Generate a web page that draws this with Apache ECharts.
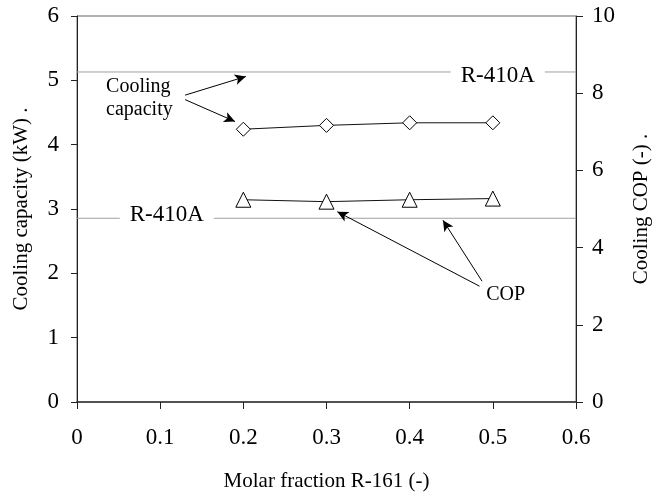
<!DOCTYPE html>
<html>
<head>
<meta charset="utf-8">
<script src="https://cdn.jsdelivr.net/npm/echarts@6/dist/echarts.min.js"></script>
<style>
  html, body { margin: 0; padding: 0; background: #fff; }
  #chart { width: 664px; height: 497px; }
</style>
</head>
<body>
<div id="chart"></div>
<script>
// Measured performance vs. R-161 molar fraction
const molarFraction = [0.2, 0.3, 0.4, 0.5];
const coolingCapacity = [4.24, 4.30, 4.34, 4.34];   // kW, left axis
const coolingCOP = [5.24, 5.19, 5.24, 5.27];        // -, right axis

// R-410A baseline values
const r410aCapacity = 5.13;
const r410aCOP = 4.76;

// Axis ranges and tick steps
const xTicks = { min: 0, max: 0.6, step: 0.1 };
const capTicks = { min: 0, max: 6, step: 1 };
const copTicks = { min: 0, max: 10, step: 2 };

// Annotation anchors in data space (x, y on the named axis)
const capacityNote = { x: 0.035, y: 4.72 };
const copNote = { x: 0.492, y: 2.77 };
const capacityArrows = [
  [[0.130, 4.77], [0.203, 5.06]],
  [[0.130, 4.70], [0.190, 4.36]]
];
const copArrows = [
  [[0.484, 3.00], [0.313, 4.93]],
  [[0.487, 3.13], [0.440, 4.71]]
];
const r410aLabelX = { capacity: 0.506, cop: 0.108 };

const FONT = '"Liberation Serif", "Times New Roman", serif';
const pairs = (xs, ys) => xs.map((x, i) => [x, ys[i]]);
const arrowData = list => list.map(([a, b]) => [{ coord: a }, { coord: b }]);

const chart = echarts.init(document.getElementById('chart'), null, { renderer: 'canvas' });

const arrowStyle = {
  silent: true,
  symbol: ['none', 'arrow'],
  symbolSize: [8, 11],
  lineStyle: { color: '#000', width: 1, type: 'solid' },
  itemStyle: { color: '#000' },
  label: { show: false },
  emphasis: { disabled: true },
  animation: false
};

const tagLabel = (text, offset) => ({
  show: true,
  formatter: text,
  position: 'inside',
  fontFamily: FONT,
  fontSize: 23,
  color: '#000',
  backgroundColor: '#fff',
  padding: [1, 10],
  offset: offset
});

chart.setOption({
  animation: false,
  backgroundColor: '#fff',
  textStyle: { fontFamily: FONT },
  grid: {
    left: 77, right: 88, top: 16, bottom: 93,
    show: true, borderColor: '#666', borderWidth: 1, backgroundColor: 'transparent'
  },
  xAxis: {
    type: 'value',
    min: xTicks.min, max: xTicks.max, interval: xTicks.step,
    name: 'Molar fraction R-161 (-)',
    nameLocation: 'middle',
    nameGap: 69,
    nameTextStyle: { fontFamily: FONT, fontSize: 21, color: '#000' },
    axisLine: { show: true, onZero: false, lineStyle: { color: '#333', width: 1.5 } },
    axisTick: { show: true, inside: false, length: 7, lineStyle: { color: '#222' } },
    axisLabel: { fontFamily: FONT, fontSize: 23, color: '#000', margin: 24 },
    splitLine: { show: false }
  },
  yAxis: [
    {
      type: 'value',
      min: capTicks.min, max: capTicks.max, interval: capTicks.step,
      name: 'Cooling capacity (kW) .',
      nameLocation: 'middle',
      nameRotate: 90,
      nameGap: 45,
      nameTextStyle: { fontFamily: FONT, fontSize: 21, color: '#000' },
      axisLine: { show: true, onZero: false, lineStyle: { color: '#222', width: 1 } },
      axisTick: { show: true, inside: false, length: 6, lineStyle: { color: '#222' } },
      axisLabel: { fontFamily: FONT, fontSize: 23, color: '#000', margin: 18 },
      splitLine: { show: false }
    },
    {
      type: 'value',
      position: 'right',
      min: copTicks.min, max: copTicks.max, interval: copTicks.step,
      name: 'Cooling COP (-) .',
      nameLocation: 'middle',
      nameRotate: 90,
      nameGap: 55,
      nameTextStyle: { fontFamily: FONT, fontSize: 21, color: '#000' },
      axisLine: { show: true, onZero: false, lineStyle: { color: '#222', width: 1 } },
      axisTick: { show: true, inside: false, length: 7, lineStyle: { color: '#222' } },
      axisLabel: { fontFamily: FONT, fontSize: 23, color: '#000', margin: 16 },
      splitLine: { show: false }
    }
  ],
  series: [
    {
      // R-410A capacity baseline
      type: 'line',
      yAxisIndex: 0,
      data: [[xTicks.min, r410aCapacity], [xTicks.max, r410aCapacity]],
      showSymbol: false,
      lineStyle: { color: '#a0a0a0', width: 1 },
      z: 1,
      silent: true,
      markPoint: {
        silent: true,
        symbol: 'circle',
        symbolSize: 0,
        data: [{ coord: [r410aLabelX.capacity, r410aCapacity] }],
        label: tagLabel('R-410A', [0, 4]),
        z: 3
      }
    },
    {
      // R-410A COP baseline
      type: 'line',
      yAxisIndex: 1,
      data: [[xTicks.min, r410aCOP], [xTicks.max, r410aCOP]],
      showSymbol: false,
      lineStyle: { color: '#a0a0a0', width: 1 },
      z: 1,
      silent: true,
      markPoint: {
        silent: true,
        symbol: 'circle',
        symbolSize: 0,
        data: [{ coord: [r410aLabelX.cop, r410aCOP] }],
        label: tagLabel('R-410A', [0, -3]),
        z: 3
      }
    },
    {
      name: 'Cooling capacity',
      type: 'line',
      yAxisIndex: 0,
      data: pairs(molarFraction, coolingCapacity),
      symbol: 'diamond',
      symbolSize: 14,
      showAllSymbol: true,
      lineStyle: { color: '#111', width: 1 },
      itemStyle: { color: '#fff', borderColor: '#000', borderWidth: 1 },
      z: 5,
      markLine: Object.assign({ data: arrowData(capacityArrows) }, arrowStyle),
      markPoint: {
        silent: true,
        symbol: 'circle',
        symbolSize: 0,
        data: [{ coord: [capacityNote.x, capacityNote.y] }],
        label: {
          show: true,
          formatter: 'Cooling\ncapacity',
          position: 'right',
          distance: 0,
          align: 'left',
          fontFamily: FONT,
          fontSize: 20,
          lineHeight: 23,
          color: '#000'
        }
      }
    },
    {
      name: 'Cooling COP',
      type: 'line',
      yAxisIndex: 1,
      data: pairs(molarFraction, coolingCOP),
      symbol: 'triangle',
      symbolSize: [15, 15],
      showAllSymbol: true,
      lineStyle: { color: '#111', width: 1 },
      itemStyle: { color: '#fff', borderColor: '#000', borderWidth: 1 },
      z: 5,
      markLine: Object.assign({ data: arrowData(copArrows) }, arrowStyle),
      markPoint: {
        silent: true,
        symbol: 'circle',
        symbolSize: 0,
        data: [{ coord: [copNote.x, copNote.y] }],
        label: {
          show: true,
          formatter: 'COP',
          position: 'right',
          distance: 0,
          fontFamily: FONT,
          fontSize: 20,
          color: '#000'
        }
      }
    }
  ]
});
</script>
</body>
</html>
